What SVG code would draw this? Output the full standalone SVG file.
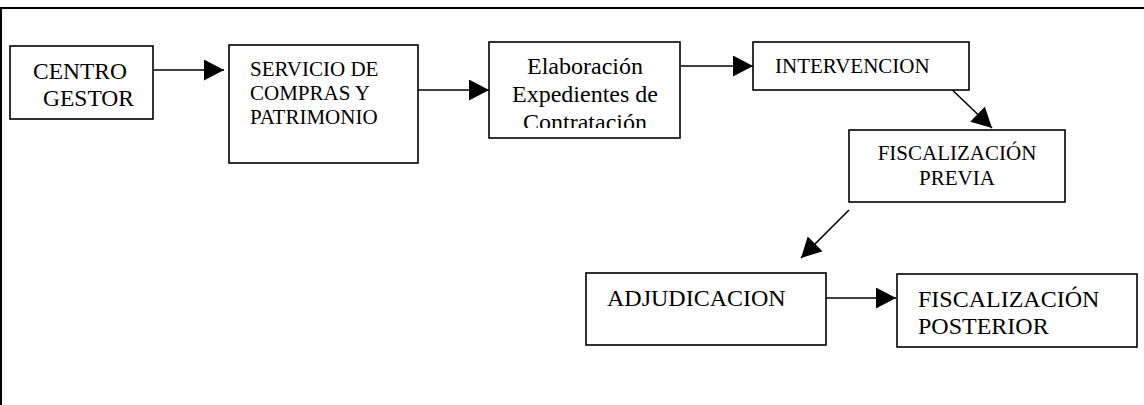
<svg xmlns="http://www.w3.org/2000/svg" width="1144" height="405" viewBox="0 0 1144 405">
<style>
.box{fill:#fff;stroke:#000;stroke-width:1.6}
.t{font-family:"Liberation Serif","Times New Roman",serif;fill:#000}
.c{stroke:#000;stroke-width:1.6;fill:none;marker-end:url(#ah)}
.frame{stroke:#000;stroke-width:2;fill:none}
</style>
<defs>
<marker id="ah" markerUnits="userSpaceOnUse" markerWidth="20" markerHeight="21" refX="20" refY="10.5" orient="auto" viewBox="0 0 20 21">
<path d="M0,0 L20,10.5 L0,21 z" fill="#000"/>
</marker>
<clipPath id="clipElab"><rect x="489" y="42" width="191" height="86"/></clipPath>
</defs>
<rect width="1144" height="405" fill="#fff"/>
<g id="frame">
<line class="frame" x1="0" y1="8" x2="1144" y2="8"/>
<line class="frame" x1="1" y1="8" x2="1" y2="405"/>
</g>
<g id="connectors">
<line class="c" x1="154" y1="70" x2="224" y2="70"/>
<line class="c" x1="418" y1="90" x2="489" y2="90"/>
<line class="c" x1="681" y1="66" x2="753" y2="66"/>
<line class="c" x1="944" y1="82" x2="992" y2="128"/>
<line class="c" x1="849" y1="210" x2="801" y2="258"/>
<line class="c" x1="825" y1="298" x2="896" y2="298"/>
</g>
<g id="centro-gestor">
<rect class="box" x="10" y="46" width="143" height="73"/>
<text class="t" font-size="23.5"><tspan x="33" y="79">CENTRO</tspan><tspan x="43" y="106">GESTOR</tspan></text>
</g>
<g id="servicio-compras">
<rect class="box" x="229" y="45" width="189" height="118"/>
<text class="t" font-size="21"><tspan x="250" y="76">SERVICIO DE</tspan><tspan x="250" y="100">COMPRAS Y</tspan><tspan x="250" y="124">PATRIMONIO</tspan></text>
</g>
<g id="elaboracion">
<rect class="box" x="489" y="42" width="191" height="96"/>
<text class="t" font-size="24" text-anchor="middle" clip-path="url(#clipElab)"><tspan x="585" y="74">Elaboración</tspan><tspan x="585" y="102">Expedientes de</tspan><tspan x="585" y="130">Contratación</tspan></text>
</g>
<g id="intervencion">
<rect class="box" x="753" y="42" width="216" height="48"/>
<text class="t" font-size="21" x="775" y="73">INTERVENCION</text>
</g>
<g id="fiscalizacion-previa">
<rect class="box" x="849" y="130" width="216" height="72"/>
<text class="t" font-size="21" text-anchor="middle"><tspan x="957" y="160">FISCALIZACIÓN</tspan><tspan x="957" y="185">PREVIA</tspan></text>
</g>
<g id="adjudicacion">
<rect class="box" x="586" y="273" width="240" height="72"/>
<text class="t" font-size="24" x="607" y="306">ADJUDICACION</text>
</g>
<g id="fiscalizacion-posterior">
<rect class="box" x="897" y="274" width="240" height="73"/>
<text class="t" font-size="24"><tspan x="918" y="307">FISCALIZACIÓN</tspan><tspan x="918" y="334">POSTERIOR</tspan></text>
</g>
</svg>
